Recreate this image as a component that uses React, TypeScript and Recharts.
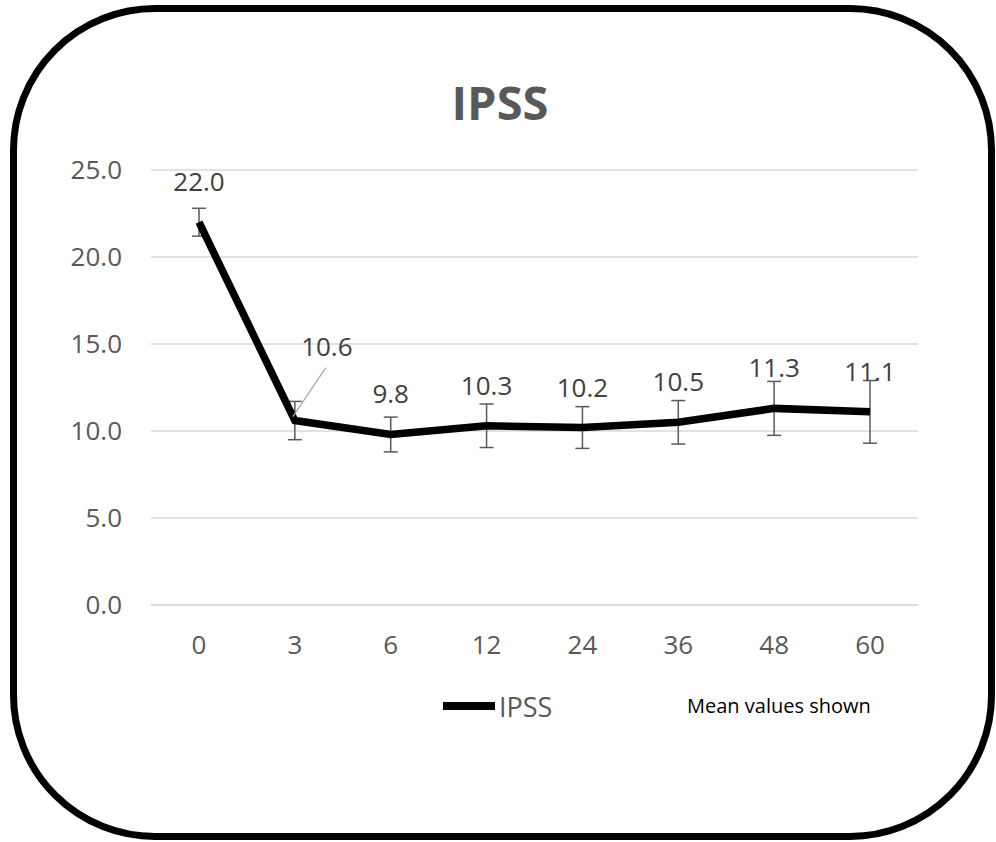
import React from "react";
import {
  LineChart, Line, XAxis, YAxis, CartesianGrid, ErrorBar, LabelList,
} from "recharts";

// follow-up months
const months = ["0", "3", "6", "12", "24", "36", "48", "60"];
// mean IPSS score
const ipssMean = [22.0, 10.6, 9.8, 10.3, 10.2, 10.5, 11.3, 11.1];
// +/- error
const ipssErr = [0.8, 1.1, 1.0, 1.25, 1.2, 1.25, 1.55, 1.8];
const yTicks = [0, 5, 10, 15, 20, 25];

const data = months.map((m, i) => ({ month: m, ipss: ipssMean[i], err: ipssErr[i] }));

const FONT = "'Open Sans', 'Noto Sans', sans-serif";
const AXIS_TEXT = "#595959";

function DataLabel(props: any) {
  const { x, y, value, index } = props;
  const txt = Number(value).toFixed(1);
  if (index === 1) {
    // this one is pulled out up-right with a leader line
    return (
      <g>
        <line x1={x - 2} y1={y - 4} x2={x + 31} y2={y - 53} stroke="#a6a6a6" strokeWidth={1.2} />
        <text x={x + 32} y={y - 65} textAnchor="middle" fill="#404040" fontSize={26} fontFamily={FONT}>
          {txt}
        </text>
      </g>
    );
  }
  return (
    <text x={x} y={y - 31} textAnchor="middle" fill="#404040" fontSize={26} fontFamily={FONT}>
      {txt}
    </text>
  );
}

export default function App() {
  return (
    <div style={{ position: "absolute", left: 0, top: 0, width: 996, height: 842, background: "#fff" }}>
      <div
        style={{
          position: "absolute", left: 10, top: 5, width: 985, height: 835,
          border: "7px solid #000", borderRadius: 145, boxSizing: "border-box",
        }}
      />
      <div style={{ position: "absolute", left: 0, top: 0 }}>
        <LineChart
          width={996}
          height={842}
          data={data}
          margin={{ top: 170, right: 78, bottom: 197, left: 61 }}
        >
          <CartesianGrid vertical={false} stroke="#d9d9d9" strokeWidth={1.5} />
          <XAxis
            dataKey="month"
            padding={{ left: 48, right: 48 }}
            axisLine={{ stroke: "#d9d9d9", strokeWidth: 1.5 }}
            tickLine={false}
            tickMargin={25}
            height={40}
            tick={{ fill: AXIS_TEXT, fontSize: 26, fontFamily: FONT }}
            interval={0}
          />
          <YAxis
            domain={[0, 25]}
            ticks={yTicks}
            width={90}
            axisLine={false}
            tickLine={false}
            tickMargin={23}
            tickFormatter={(v: number) => v.toFixed(1)}
            tick={{ fill: AXIS_TEXT, fontSize: 26, fontFamily: FONT }}
          />
          <Line
            type="linear"
            dataKey="ipss"
            stroke="#000"
            strokeWidth={7.5}
            dot={false}
            isAnimationActive={false}
          >
            <ErrorBar dataKey="err" direction="y" width={7} stroke="#595959" strokeWidth={1.5} />
            <LabelList dataKey="ipss" content={DataLabel} />
          </Line>
        </LineChart>
      </div>
      <svg
        width={996}
        height={842}
        style={{ position: "absolute", left: 0, top: 0, pointerEvents: "none" }}
      >
        <text x={500} y={120} textAnchor="middle" fill={AXIS_TEXT} fontSize={47} fontWeight="bold" fontFamily={FONT}>
          IPSS
        </text>
        <line x1={443} y1={706} x2={495} y2={706} stroke="#000" strokeWidth={8} />
        <text x={499} y={717} fill={AXIS_TEXT} fontSize={27} fontFamily={FONT}>IPSS</text>
        <text x={687} y={713} fill="#000" fontSize={20} fontFamily={FONT}>Mean values shown</text>
      </svg>
    </div>
  );
}
